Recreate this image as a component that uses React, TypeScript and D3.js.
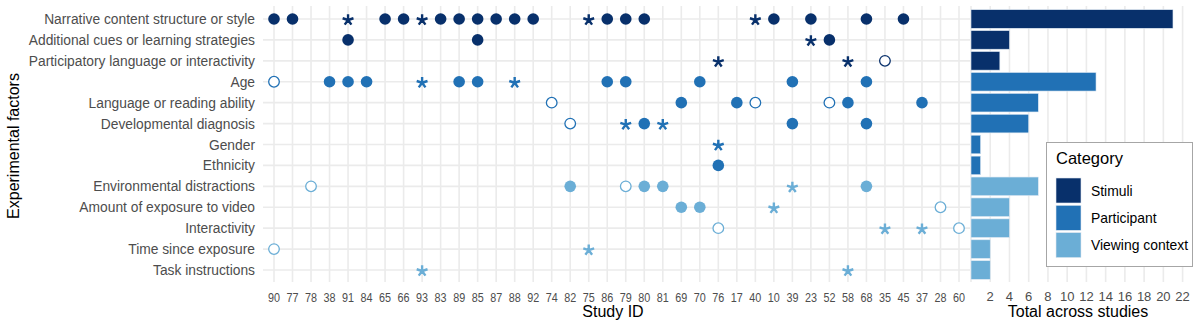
import React from "react";
import * as d3 from "d3";

const studyIds = [90, 77, 78, 38, 91, 84, 65, 66, 93, 83, 89, 85, 87, 88, 92, 74, 82, 75, 86, 79, 80, 81, 69, 70, 76, 17, 40, 10, 39, 23, 52, 58, 68, 35, 45, 37, 28, 60];

const factors = [
  "Narrative content structure or style",
  "Additional cues or learning strategies",
  "Participatory language or interactivity",
  "Age",
  "Language or reading ability",
  "Developmental diagnosis",
  "Gender",
  "Ethnicity",
  "Environmental distractions",
  "Amount of exposure to video",
  "Interactivity",
  "Time since exposure",
  "Task instructions",
];

const categories = ["Stimuli", "Participant", "Viewing context"];
const categoryColors = ["#08306b", "#2171b5", "#6baed6"];
const factorCategory = [0, 0, 0, 1, 1, 1, 1, 1, 2, 2, 2, 2, 2];

// per factor (same order as factors)
const filledStudies: number[][] = [
  [90, 77, 65, 66, 83, 89, 85, 87, 88, 92, 86, 79, 80, 10, 23, 68, 45],
  [91, 85, 52],
  [],
  [38, 91, 84, 89, 85, 86, 79, 70, 39, 68],
  [69, 17, 58, 37],
  [80, 39, 68],
  [],
  [76],
  [82, 80, 81, 68],
  [69, 70],
  [],
  [],
  [],
];

const openStudies: number[][] = [
  [],
  [],
  [35],
  [90],
  [74, 40, 52],
  [82],
  [],
  [],
  [78, 79],
  [28],
  [76, 60],
  [90],
  [],
];

const starStudies: number[][] = [
  [91, 93, 75, 40],
  [23],
  [76, 58],
  [93, 88],
  [],
  [79, 81],
  [76],
  [],
  [39],
  [10],
  [35, 37],
  [75],
  [93, 58],
];

const totals = [21, 4, 3, 13, 7, 6, 1, 1, 7, 4, 4, 2, 2];
const totalTicks = [2, 4, 6, 8, 10, 12, 14, 16, 18, 20, 22];

const FONT = "'Liberation Sans', Arial, sans-serif";
const GRID = "#ebebeb";
const TICK = "#4d4d4d";

// custom 5-arm asterisk symbol
const asterisk5 = {
  draw(context: any, size: number) {
    const r = Math.sqrt(size) / 2;
    for (let i = 0; i < 5; i++) {
      const a = -Math.PI / 2 + (i * 2 * Math.PI) / 5;
      context.moveTo(0, 0);
      context.lineTo(r * Math.cos(a), r * Math.sin(a));
    }
  },
};

export default function App() {
  const W = 1200;
  const H = 327;

  const x = d3.scalePoint<number>().domain(studyIds).range([274, 959]);
  const y = d3.scalePoint<string>().domain(factors).range([19, 270]);
  const xb = d3.scaleLinear().domain([0, 22]).range([971, 1182.6]);

  const panelTop = 6;
  const panelBottom = 282;
  const panelLeft = 263;
  const panelRight = 970;
  const barH = 18.6;

  const starPath = d3.symbol().type(asterisk5 as any).size(130)() as string;

  return (
    <svg
      width={W}
      height={H}
      style={{ position: "absolute", left: 0, top: 0, background: "#fff" }}
      fontFamily={FONT}
    >
      <rect x={0} y={0} width={W} height={H} fill="#fff" />

      {/* dot panel grid */}
      {studyIds.map((s) => (
        <line key={"vg" + s} x1={x(s)} x2={x(s)} y1={panelTop} y2={panelBottom} stroke={GRID} strokeWidth={1.6} />
      ))}
      {factors.map((f) => (
        <line key={"hg" + f} x1={panelLeft} x2={panelRight} y1={y(f)} y2={y(f)} stroke={GRID} strokeWidth={1.6} />
      ))}

      {/* bar panel grid */}
      {[0, ...totalTicks].map((t) => (
        <line key={"bg" + t} x1={xb(t)} x2={xb(t)} y1={panelTop} y2={panelBottom} stroke={GRID} strokeWidth={1.6} />
      ))}

      {/* row labels */}
      {factors.map((f) => (
        <text key={"rl" + f} x={255} y={(y(f) as number) + 5} textAnchor="end" fontSize={13.8} fill={TICK}>
          {f}
        </text>
      ))}

      {/* study id labels */}
      {studyIds.map((s) => (
        <text
          key={"sl" + s}
          transform={`translate(${x(s)},302) scale(0.9,1)`}
          textAnchor="middle"
          fontSize={12}
          fill={TICK}
        >
          {s}
        </text>
      ))}

      {/* total ticks */}
      {totalTicks.map((t) => (
        <text key={"tl" + t} x={xb(t)} y={301} textAnchor="middle" fontSize={13} fill={TICK}>
          {t}
        </text>
      ))}

      {/* axis titles */}
      <text x={613} y={317} textAnchor="middle" fontSize={16} fill="#000">
        Study ID
      </text>
      <text x={1078} y={317} textAnchor="middle" fontSize={16} fill="#000">
        Total across studies
      </text>
      <text transform="translate(19,146) rotate(-90)" textAnchor="middle" fontSize={16} fill="#000">
        Experimental factors
      </text>

      {/* points */}
      {factors.map((f, i) => {
        const col = categoryColors[factorCategory[i]];
        const cy = y(f) as number;
        return (
          <g key={"pts" + f}>
            {filledStudies[i].map((s) => (
              <circle key={"f" + s} cx={x(s)} cy={cy} r={5.8} fill={col} />
            ))}
            {openStudies[i].map((s) => (
              <circle key={"o" + s} cx={x(s)} cy={cy} r={5.3} fill="#fff" stroke={col} strokeWidth={1.3} />
            ))}
            {starStudies[i].map((s) => (
              <path
                key={"s" + s}
                d={starPath}
                transform={`translate(${x(s)},${cy + 1})`}
                fill="none"
                stroke={col}
                strokeWidth={2.4}
              />
            ))}
          </g>
        );
      })}

      {/* bars */}
      {factors.map((f, i) => (
        <rect
          key={"bar" + f}
          x={xb(0)}
          y={(y(f) as number) - barH / 2}
          width={xb(totals[i]) - xb(0)}
          height={barH}
          fill={categoryColors[factorCategory[i]]}
          stroke="#dfe9f3"
          strokeWidth={0.6}
        />
      ))}

      {/* legend */}
      <g>
        <rect x={1046.5} y={142.5} width={146} height={124} fill="#fff" stroke="#a6a6a6" strokeWidth={1} />
        <text x={1056} y={164} fontSize={16.5} fill="#000">
          Category
        </text>
        {categories.map((c, i) => (
          <g key={"lg" + c}>
            <rect x={1056} y={178 + i * 27.3} width={25} height={25} fill={categoryColors[i]} stroke="#e0e8f0" strokeWidth={0.6} />
            <text x={1091} y={178 + i * 27.3 + 17.5} fontSize={13.9} fill="#000">
              {c}
            </text>
          </g>
        ))}
      </g>
    </svg>
  );
}
